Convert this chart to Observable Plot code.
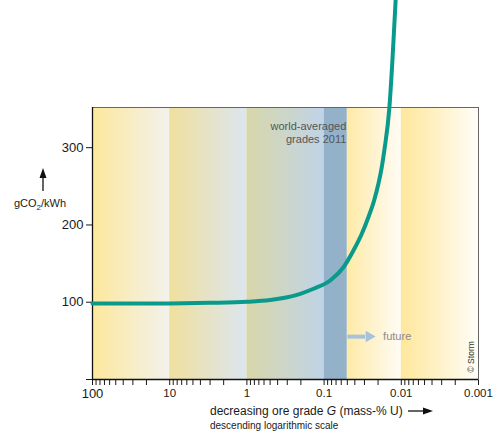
<!DOCTYPE html>
<html><head><meta charset="utf-8">
<script src="https://cdn.jsdelivr.net/npm/d3@7"></script>
<script src="https://cdn.jsdelivr.net/npm/@observablehq/plot@0.6"></script>
<style>body{margin:0;background:#fff;} svg{display:block;}</style>
</head><body><div id="chart"></div>
<script>
// Curve: CO2 emission of nuclear power vs. ore grade
const oreGrade = [100, 30, 10, 3, 1, 0.5, 0.37, 0.2037, 0.1371, 0.0834, 0.0561, 0.0417, 0.0325, 0.0267, 0.0225, 0.0198, 0.0179, 0.0166, 0.0143, 0.0130, 0.0120, 0.0117];
const gCO2perKWh = [98.5, 98.3, 98.5, 99.2, 100.5, 102.8, 104.8, 110.9, 117.4, 128.1, 145.3, 166.9, 188.6, 210.0, 231.7, 253.3, 274.8, 296.4, 350.7, 415, 480, 500];

// Background bands
const bandFrom = [100, 10, 1, 0.1, 0.05, 0.01];
const bandTo = [10, 1, 0.1, 0.05, 0.01, 0.001];
const bandColorStart = ["#fde89c", "#f0df9e", "#d8d7aa", "#94b1ca", "#feeaa6", "#fee79c"];
const bandColorEnd = ["#f2f1ec", "#dce6ef", "#c0d4e8", "#94b1ca", "#fffcf5", "#fffdf7"];

// Annotations
const futureArrow = {from: 0.05, to: 0.0294, head: 0.0262, text: 0.0172, level: 55.5};

// Tick labels
const decadeValues = [100, 10, 1, 0.1, 0.01, 0.001];
const decadeLabels = ["100", "10", "1", "0.1", "0.01", "0.001"];
const yTickValues = [100, 200, 300];

const curve = oreGrade.map((g, i) => ({g, v: gCO2perKWh[i]}));
const bands = bandFrom.map((f, i) => ({from: f, to: bandTo[i], fill: `url(#band${i})`}));

function xLabel(d) {
  const i = decadeValues.findIndex(v => Math.abs(Math.log10(v) - Math.log10(d)) < 1e-6);
  return i >= 0 ? decadeLabels[i] : "";
}

const svg = Plot.plot({
  width: 496, height: 432,
  marginTop: 107, marginBottom: 53, marginLeft: 92, marginRight: 18,
  style: {fontFamily: "'Liberation Sans', Arial, sans-serif", fontSize: "11.5px", color: "#1a1a1a", background: "white", overflow: "visible"},
  x: {type: "log", domain: [100, 0.001], ticks: 30, tickFormat: xLabel, label: null, tickSize: 6},
  y: {domain: [0, 352], ticks: 3, tickFormat: d => yTickValues.includes(d) ? String(d) : "", label: null, tickSize: 6},
  color: {type: "identity"},
  marks: [
    Plot.rect(bands, {x1: "from", x2: "to", fill: "fill"}),
    Plot.frame({stroke: "#666"}),
    Plot.ruleX([100], {stroke: "#111", strokeWidth: 1.3}),
    Plot.ruleY([0], {stroke: "#111", strokeWidth: 1.3}),
    Plot.text(["world-averaged"], {x: 0.05, frameAnchor: "top", dx: -1, dy: 15, textAnchor: "end", fill: "#555", fontSize: 11}),
    Plot.text(["grades 2011"], {x: 0.05, frameAnchor: "top", dx: -1, dy: 28, textAnchor: "end", fill: "#555", fontSize: 11}),
    Plot.link([futureArrow], {x1: "from", x2: "to", y1: "level", y2: "level", stroke: "#a6c3de", strokeWidth: 4}),
    Plot.dot([futureArrow], {x: "head", y: "level", symbol: "triangle2", rotate: 90, r: 5.5, fill: "#a6c3de"}),
    Plot.text([futureArrow], {x: "text", y: "level", text: () => "future", textAnchor: "start", fill: "#8a8a8a", fontSize: 11}),
    Plot.text(["© Storm"], {frameAnchor: "bottom-right", dx: -5, dy: -7, rotate: -90, textAnchor: "start", fill: "#333", fontSize: 8.5}),
    Plot.line(curve, {x: "g", y: "v", stroke: "#0a9a8b", strokeWidth: 4, curve: "monotone-x"})
  ]
});

document.getElementById("chart").append(svg);
const s = d3.select(svg.tagName === "svg" ? svg : svg.querySelector("svg"));
const defs = s.insert("defs", ":first-child");
bandColorStart.forEach((c, i) => {
  const lg = defs.append("linearGradient").attr("id", `band${i}`).attr("x1", 0).attr("x2", 1).attr("y1", 0).attr("y2", 0);
  lg.append("stop").attr("offset", 0).attr("stop-color", c);
  lg.append("stop").attr("offset", 1).attr("stop-color", bandColorEnd[i]);
});

// y tick labels slightly larger
const yLabelStrings = yTickValues.map(String);
s.selectAll("text").filter(function() {
  return yLabelStrings.includes(this.textContent.trim()) && this.getBoundingClientRect().x < 88;
}).attr("font-size", 13).style("font-size", "13px");

// y axis label with arrow
const yl = s.append("text").attr("x", 40).attr("y", 207).attr("text-anchor", "middle")
  .attr("font-size", 11).attr("fill", "#1a1a1a");
yl.append("tspan").text("gCO");
yl.append("tspan").attr("font-size", 8).attr("dy", 3).text("2");
yl.append("tspan").attr("dy", -3).text("/kWh");
s.append("line").attr("x1", 43).attr("x2", 43).attr("y1", 191).attr("y2", 176).attr("stroke", "#111").attr("stroke-width", 1.3);
s.append("polygon").attr("points", "43,168 39.5,178 46.5,178").attr("fill", "#111");

// x axis label with arrow
const xl = s.append("text").attr("x", 210).attr("y", 415).attr("text-anchor", "start").attr("font-size", 12).attr("fill", "#1a1a1a");
xl.append("tspan").text("decreasing ore grade ");
xl.append("tspan").attr("font-style", "italic").text("G");
xl.append("tspan").text(" (mass-% U)");
s.append("line").attr("x1", 408).attr("x2", 425).attr("y1", 411).attr("y2", 411).attr("stroke", "#111").attr("stroke-width", 1.3);
s.append("polygon").attr("points", "433,411 423,407.5 423,414.5").attr("fill", "#111");
s.append("text").attr("x", 210).attr("y", 428.5).attr("text-anchor", "start").attr("font-size", 10).attr("fill", "#1a1a1a").text("descending logarithmic scale");
</script>
</body></html>
